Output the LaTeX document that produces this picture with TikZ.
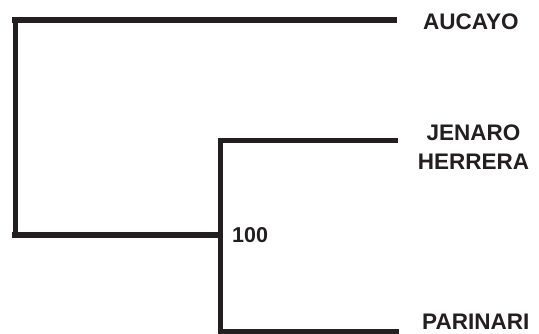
\documentclass[tikz,border=0pt]{standalone}
\usepackage{fontspec}
\setmainfont{Liberation Sans}
\def\W{539}
\def\H{333}
\definecolor{inkcolor}{cmyk}{0,0,0,100}
\definecolor{bgcolor}{cmyk}{0,0,0,0}
\tikzset{
  branch/.style={draw=inkcolor,line width=5pt,line cap=rect},
  trunk/.style={branch,line width=6.5pt},
  taxon/.style={text=inkcolor,inner sep=0pt,font=\bfseries\fontsize{22.5}{29}\selectfont},
  support/.style={taxon,font=\bfseries\fontsize{21.5}{24}\selectfont}
}
\begin{document}
\begin{tikzpicture}[x=1pt,y=-1pt]
\fill[bgcolor] (0,0) rectangle (\W,\H);
\useasboundingbox (0,0) rectangle (\W,\H);
% junctions
\coordinate (root) at (15.5,20);
\coordinate (rootlow) at (15.5,235);
\coordinate (clade) at (220,235);
\coordinate (cladetop) at (220,140);
\coordinate (cladelow) at (220,331);
% leaf ends
\coordinate (endA) at (394,20);
\coordinate (endJ) at (395.5,140);
\coordinate (endP) at (396.5,331);
\draw[trunk] (root) -- (endA);
\draw[branch,line width=4.5pt] (root) -- (rootlow);
\draw[trunk] (rootlow) -- (clade);
\draw[branch] (cladetop) -- (cladelow);
\draw[branch] (cladetop) -- (endJ);
\draw[branch] (cladelow) -- (endP);
% labels
\node[taxon,anchor=base west] (aucayo) at (423,29.3) {AUCAYO};
\node[taxon,anchor=base,align=center] (jenaro) at (473.5,169) {JENARO\\HERRERA};
\node[taxon,anchor=base west] (parinari) at (422,329.5) {PARINARI};
\node[support,anchor=base west] (boot) at (232,242.7) {100};
\end{tikzpicture}
\end{document}
